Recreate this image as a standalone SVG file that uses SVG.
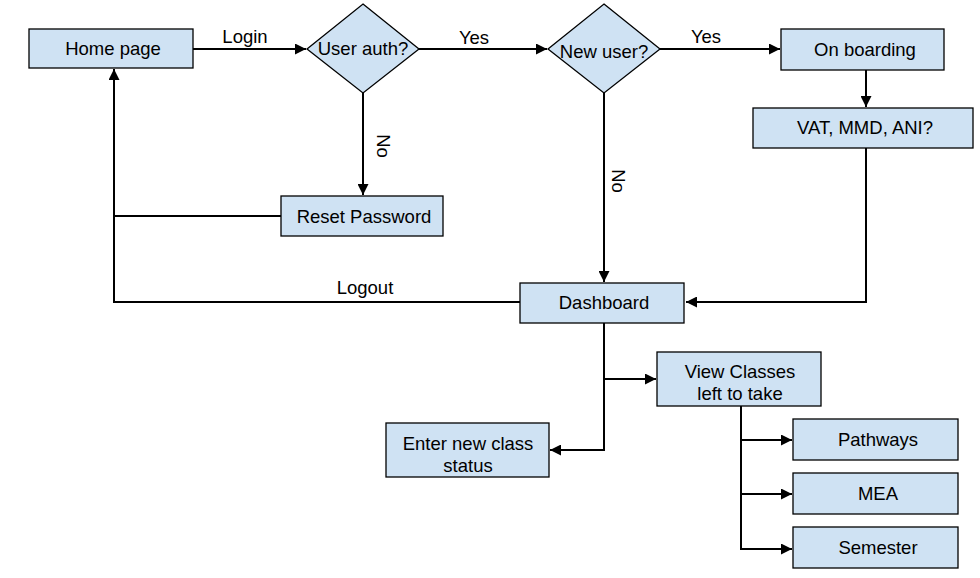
<svg xmlns="http://www.w3.org/2000/svg" width="980" height="578" viewBox="0 0 980 578">
<style>
.box{fill:#cfe2f3;stroke:#000;stroke-width:1.3}
.t{font-family:"Liberation Sans",Arial,sans-serif;font-size:18.5px;fill:#000;text-anchor:middle}
.c{fill:none;stroke:#000;stroke-width:2}
</style>
<defs>
<marker id="ah" viewBox="0 0 10 10" refX="10" refY="5" markerWidth="5.5" markerHeight="5.5" markerUnits="strokeWidth" orient="auto">
<path d="M0,0 L10,5 L0,10 z" fill="#000"/>
</marker>
</defs>
<rect width="980" height="578" fill="#fff"/>
<g id="connectors">
<path class="c" d="M193,49 L306,49" marker-end="url(#ah)"/>
<path class="c" d="M419,49 L547,49" marker-end="url(#ah)"/>
<path class="c" d="M660,49 L780,49" marker-end="url(#ah)"/>
<path class="c" d="M866,70 L866,107" marker-end="url(#ah)"/>
<path class="c" d="M866,148 L866,302 L686,302" marker-end="url(#ah)"/>
<path class="c" d="M363,93 L363,195" marker-end="url(#ah)"/>
<path class="c" d="M604,93 L604,282" marker-end="url(#ah)"/>
<path class="c" d="M281,216 L114,216"/>
<path class="c" d="M520,302 L114,302 L114,69" marker-end="url(#ah)"/>
<path class="c" d="M604,323 L604,450 L550,450" marker-end="url(#ah)"/>
<path class="c" d="M604,379 L656,379" marker-end="url(#ah)"/>
<path class="c" d="M741,406 L741,549 L792,549" marker-end="url(#ah)"/>
<path class="c" d="M741,440 L792,440" marker-end="url(#ah)"/>
<path class="c" d="M741,494 L792,494" marker-end="url(#ah)"/>
<text class="t" x="245" y="43">Login</text>
<text class="t" x="474" y="44">Yes</text>
<text class="t" x="706" y="43">Yes</text>
<text class="t" x="365" y="294">Logout</text>
<text class="t" transform="translate(377,146) rotate(90)">No</text>
<text class="t" transform="translate(612,181) rotate(90)">No</text>
</g>
<g id="home"><rect class="box" x="29" y="29" width="164" height="39"/><text class="t" x="113" y="55">Home page</text></g>
<g id="userauth"><path class="box" d="M363,4 L419,49 L363,93 L307,49 Z"/><text class="t" x="363" y="55">User auth?</text></g>
<g id="newuser"><path class="box" d="M604,4 L660,49 L604,93 L548,49 Z"/><text class="t" x="604" y="58">New user?</text></g>
<g id="onboarding"><rect class="box" x="781" y="29" width="163" height="41"/><text class="t" x="865" y="56">On boarding</text></g>
<g id="vat"><rect class="box" x="753" y="108" width="220" height="40"/><text class="t" x="865" y="134">VAT, MMD, ANI?</text></g>
<g id="reset"><rect class="box" x="281" y="196" width="162" height="40"/><text class="t" x="364" y="223">Reset Password</text></g>
<g id="dashboard"><rect class="box" x="520" y="283" width="164" height="40"/><text class="t" x="604" y="309">Dashboard</text></g>
<g id="viewclasses"><rect class="box" x="657" y="352" width="164" height="54"/><text class="t" x="740" y="378">View Classes</text><text class="t" x="740" y="400">left to take</text></g>
<g id="enterclass"><rect class="box" x="386" y="423" width="163" height="54"/><text class="t" x="468" y="450">Enter new class</text><text class="t" x="468" y="472">status</text></g>
<g id="pathways"><rect class="box" x="793" y="419" width="165" height="41"/><text class="t" x="878" y="446">Pathways</text></g>
<g id="mea"><rect class="box" x="793" y="473" width="165" height="41"/><text class="t" x="878" y="500">MEA</text></g>
<g id="semester"><rect class="box" x="793" y="527" width="165" height="41"/><text class="t" x="878" y="554">Semester</text></g>
</svg>
